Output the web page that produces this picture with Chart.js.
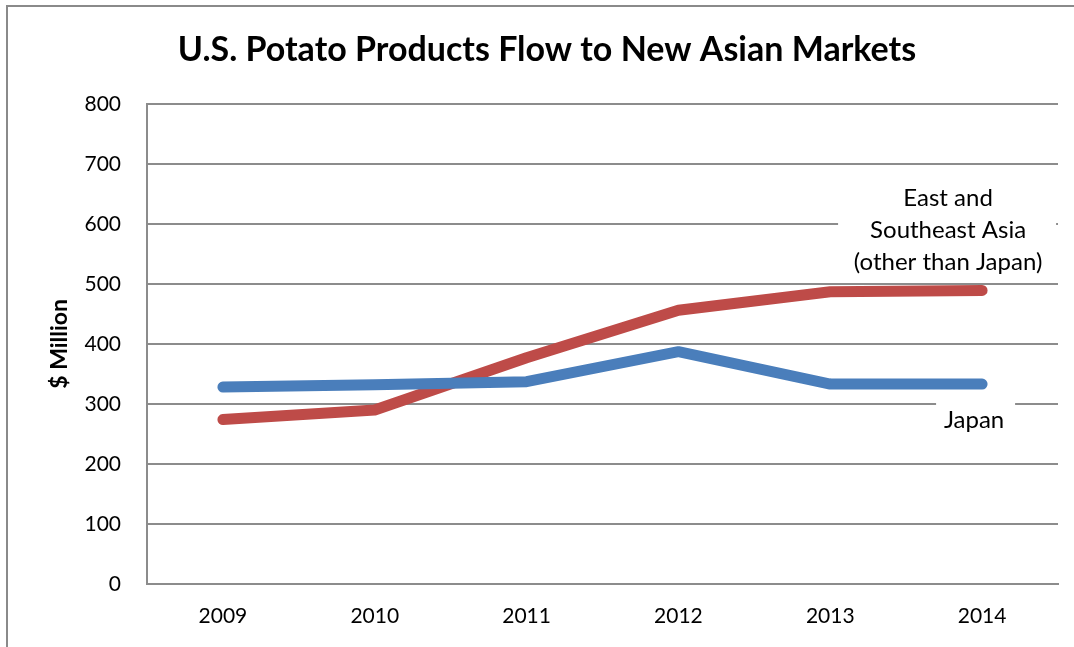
<!DOCTYPE html>
<html>
<head>
<meta charset="utf-8">
<script src="https://cdn.jsdelivr.net/npm/chart.js@4/dist/chart.umd.min.js"></script>
<style>
  html, body { margin: 0; padding: 0; background: #fff; }
  #wrap { position: relative; width: 1074px; height: 647px; }
  #frame { position: absolute; left: 6px; top: 5px; right: -10px; bottom: -10px; border: 2px solid #8a8a8a; }
  canvas { position: absolute; left: 0; top: 0; }
</style>
</head>
<body>
<div id="wrap">
  <div id="frame"></div>
  <canvas id="js--chart" width="1074" height="647"></canvas>
</div>
<script>
const years = ['2009', '2010', '2011', '2012', '2013', '2014'];
const japan = [328, 332, 337, 387, 333, 333];
const eastAsia = [274, 290, 377, 456, 487, 489];
const yTicks = [0, 100, 200, 300, 400, 500, 600, 700, 800];

const fontName = 'Lato, "Open Sans", sans-serif';
const gridGray = '#8c8c8c';

// text labels next to the lines, with a white box over the gridlines
const lineLabels = {
  id: 'lineLabels',
  beforeDatasetsDraw(chart) {
    const ctx = chart.ctx;
    const x = chart.scales.x;
    const y = chart.scales.y;
    const xEnd = x.getPixelForValue(5);

    ctx.save();
    ctx.fillStyle = '#fff';
    ctx.fillRect(xEnd - 144, y.getPixelForValue(600) - 46, 218, 100);
    ctx.fillRect(xEnd - 46, y.getPixelForValue(300) - 6, 79, 40);

    ctx.fillStyle = '#000';
    ctx.font = '24px ' + fontName;
    ctx.textAlign = 'center';
    ctx.textBaseline = 'middle';
    const cx = xEnd - 34;
    const top = y.getPixelForValue(600);
    ctx.fillText('East and', cx, top - 26);
    ctx.fillText('Southeast Asia', cx, top + 6);
    ctx.fillText('(other than Japan)', cx, top + 38);
    ctx.fillText('Japan', xEnd - 8, y.getPixelForValue(300) + 16);
    ctx.restore();
  }
};

const chart = new Chart(document.getElementById('js--chart'), {
  type: 'line',
  data: {
    labels: years,
    datasets: [
      {
        label: 'Japan',
        data: japan,
        borderColor: '#4a7ebb',
        borderWidth: 11,
        borderCapStyle: 'round',
        borderJoinStyle: 'round',
        pointRadius: 0,
        tension: 0
      },
      {
        label: 'East and Southeast Asia (other than Japan)',
        data: eastAsia,
        borderColor: '#be4b48',
        borderWidth: 11,
        borderCapStyle: 'round',
        borderJoinStyle: 'round',
        pointRadius: 0,
        tension: 0
      }
    ]
  },
  options: {
    responsive: false,
    animation: false,
    layout: { padding: { left: 36, right: 16, top: 0, bottom: 0 } },
    plugins: {
      legend: { display: false },
      tooltip: { enabled: false },
      title: {
        display: true,
        text: 'U.S. Potato Products Flow to New Asian Markets',
        color: '#000',
        font: { family: fontName, size: 34, weight: 'bold' },
        padding: { top: 30, bottom: 33 }
      }
    },
    scales: {
      x: {
        offset: true,
        grid: { display: false, drawTicks: false },
        border: { display: true, color: gridGray, width: 2 },
        ticks: {
          color: '#000',
          font: { family: fontName, size: 21 },
          padding: 20,
          maxRotation: 0
        },
        afterFit(scale) { scale.height = 63; }
      },
      y: {
        min: 0,
        max: 800,
        afterBuildTicks(scale) { scale.ticks = yTicks.map(v => ({ value: v })); },
        grid: { color: gridGray, lineWidth: 2, drawTicks: false },
        border: { display: true, color: gridGray, width: 2 },
        ticks: {
          color: '#000',
          font: { family: fontName, size: 21 },
          padding: 26
        },
        title: {
          display: true,
          text: '$ Million',
          color: '#000',
          font: { family: fontName, size: 23, weight: 'bold' },
          padding: { top: 10, bottom: 0 }
        },
        afterFit(scale) { scale.width = 111; }
      }
    }
  },
  plugins: [lineLabels]
});
</script>
</body>
</html>
